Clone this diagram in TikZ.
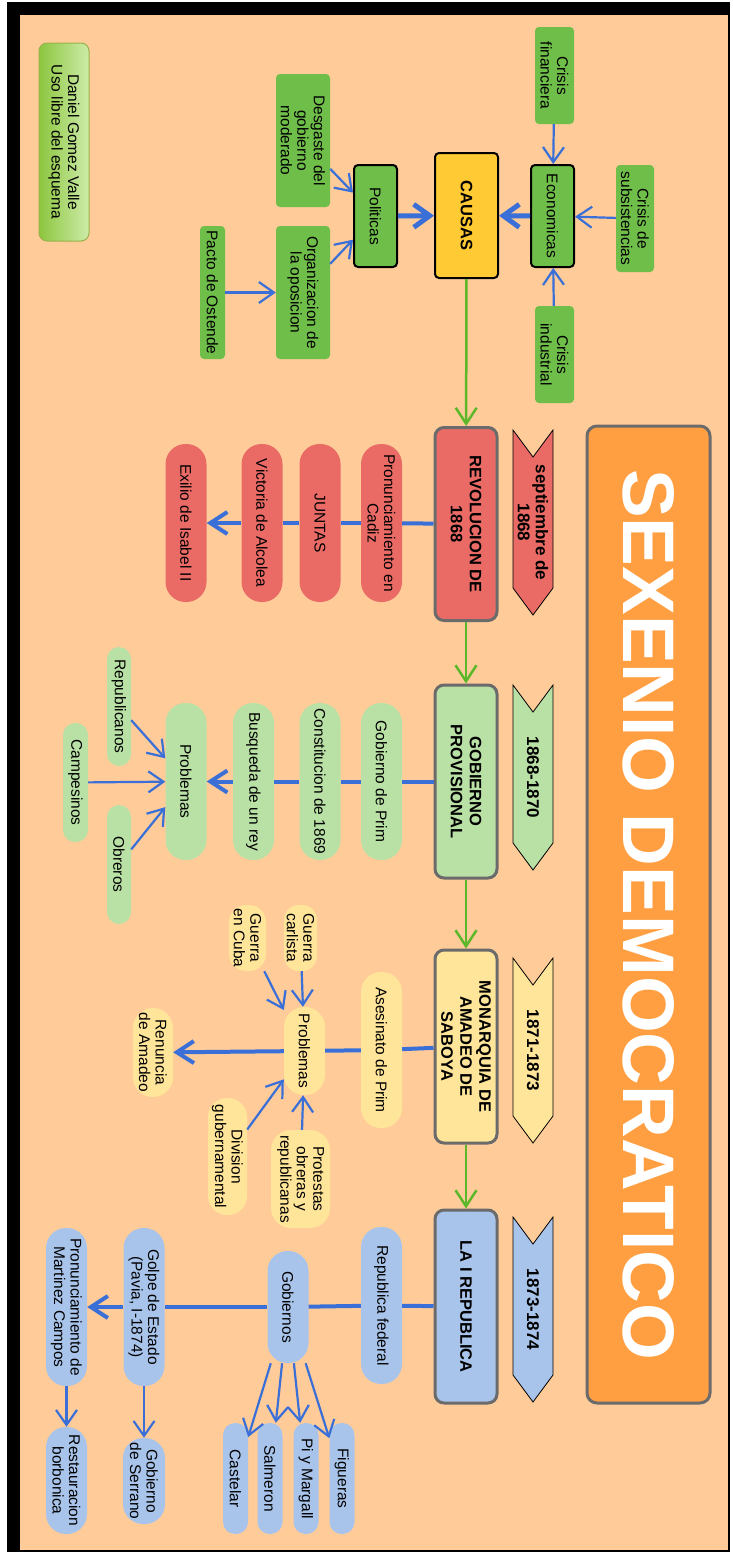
\documentclass[tikz,border=0pt]{standalone}
\usepackage{fontspec}
\setmainfont{Liberation Sans}
\usetikzlibrary{arrows.meta,shapes.symbols}

\definecolor{fondo}{HTML}{FFCC99}
\definecolor{naranja}{HTML}{FF9F42}
\definecolor{gris}{HTML}{6B6B6B}
\definecolor{rojo}{HTML}{EA6B66}
\definecolor{verdeclaro}{HTML}{B9E0A5}
\definecolor{amarillo}{HTML}{FFE599}
\definecolor{azulclaro}{HTML}{A9C4EB}
\definecolor{verdecausa}{HTML}{6FBE4A}
\definecolor{oro}{HTML}{FFCA33}
\definecolor{azul}{HTML}{3A6FD8}
\definecolor{verdeflecha}{HTML}{5CB82A}
\definecolor{verdeosc}{HTML}{8CC63F}
\definecolor{verdepal}{HTML}{CDEBA8}
\definecolor{oliva}{HTML}{9AB04A}

\newcommand{\txtreg}{\fontsize{15.5}{16.5}\selectfont}
\newcommand{\txtbold}{\fontsize{16.5}{19}\selectfont\bfseries}
\newcommand{\txtfecha}{\fontsize{17}{18}\selectfont\bfseries}
\newcommand{\txttitulo}{\fontsize{73}{80}\selectfont\bfseries}

\begin{document}
\begin{tikzpicture}[x=1pt,y=-1pt]
    \tikzstyle{caja}=[rotate=-90,inner sep=0pt,align=center,font=\txtreg]
    \tikzstyle{causa}=[caja,fill=verdecausa,rounded corners=4pt]
    \tikzstyle{eje}=[causa,draw=black,line width=2pt]
    \tikzstyle{etapa}=[caja,draw=gris,line width=3pt,rounded corners=9pt,minimum width=193pt,minimum height=62pt,font=\txtbold]
    \tikzstyle{pill}=[caja,rounded corners=20pt,minimum height=41pt]
    \tikzstyle{fecha}=[caja,signal,signal to=east,signal from=west,signal pointer angle=73,draw=black,line width=0.8pt,minimum width=185pt,minimum height=40pt,font=\txtfecha]
    \tikzstyle{fina}=[draw=azul,line width=2.2pt,-{Straight Barb[length=15pt,width=21pt]}]
    \tikzstyle{gruesa}=[draw=azul,line width=5pt,-{Straight Barb[length=16pt,width=23pt]}]
    \tikzstyle{linea}=[draw=azul,line width=4pt]
    \tikzstyle{espina}=[draw=verdeflecha,line width=2.5pt,-{Straight Barb[length=16pt,width=21pt]}]

    \fill[white] (0,0) rectangle (733,1553);
    \fill[black] (7,2) rectangle (730,1552);
    \fill[fondo] (20,15) rectangle (728,1550);
    \useasboundingbox (0,0) rectangle (733,1553);

    \node[caja,draw=oliva,line width=1pt,rounded corners=8pt,left color=verdeosc,right color=verdepal,minimum width=198pt,minimum height=50pt] (autor) at (64,142) {Daniel Gomez Valle\\Uso libre del esquema};

    \node[eje,fill=oro,font=\txtbold,minimum width=125pt,minimum height=63pt] (causas) at (466.5,215.5) {CAUSAS};
    \node[eje,minimum width=102pt,minimum height=43pt] (econ) at (552.5,216) {Economicas};
    \node[eje,minimum width=102pt,minimum height=43pt] (polit) at (375.5,216) {Politicas};
    \node[causa,minimum width=97pt,minimum height=39pt] (finan) at (554.5,75.5) {Crisis\\financiera};
    \node[causa,minimum width=107pt,minimum height=38pt] (subsis) at (635,218.5) {Crisis de\\subsistencias};
    \node[causa,minimum width=97pt,minimum height=39pt] (indus) at (554.5,354.5) {Crisis\\industrial};
    \node[causa,minimum width=133pt,minimum height=54pt] (desgaste) at (303,140.5) {Desgaste del\\gobierno\\moderado};
    \node[causa,minimum width=133pt,minimum height=54pt] (organiz) at (303,292.5) {Organizacion de\\la oposicion};
    \node[causa,minimum width=133pt,minimum height=25pt] (pacto) at (212.5,292.5) {Pacto de Ostende};

    \node[caja,fill=naranja,draw=gris,line width=3pt,rounded corners=10pt,minimum width=977pt,minimum height=123pt,font=\txttitulo,text=white] (titulo) at (648.5,914.5) {SEXENIO DEMOCRATICO};

    \foreach \n/\y/\c/\t in {1/522.5/rojo/{septiembre de\\1868}, 2/777.5/verdeclaro/1868-1870, 3/1050.5/amarillo/1871-1873, 4/1309.5/azulclaro/1873-1874}
        \node[fecha,fill=\c] (F-\n) at (533,\y) {\t};

    \foreach \nom/\y/\c/\t in {rev/524/rojo/{REVOLUCION DE\\1868}, gob/781.5/verdeclaro/{GOBIERNO\\PROVISIONAL}, mon/1046.5/amarillo/{MONARQUIA DE\\AMADEO DE\\SABOYA}, rep/1306.5/azulclaro/LA I REPUBLICA}
        \node[etapa,fill=\c] (\nom) at (466,\y) {\t};

    \foreach \n/\x/\t in {1/381.5/{Pronunciamiento en\\Cadiz}, 2/320/JUNTAS, 3/262/Victoria de Alcolea, 4/186/Exilio de Isabel II}
        \node[pill,fill=rojo,minimum width=158pt] (R-\n) at (\x,523) {\t};

    \foreach \n/\x/\t in {1/381.5/Gobierno de Prim, 2/320/Constitucion de 1869, 3/253.5/Busqueda de un rey, 4/186/Problemas}
        \node[pill,fill=verdeclaro,minimum width=157pt] (G-\n) at (\x,781.5) {\t};
    \node[pill,fill=verdeclaro,rounded corners=12pt,minimum width=119pt,minimum height=24pt] (republicanos) at (119,706.5) {Republicanos};
    \node[pill,fill=verdeclaro,rounded corners=12pt,minimum width=119pt,minimum height=25pt] (campesinos) at (75.5,782.5) {Campesinos};
    \node[pill,fill=verdeclaro,rounded corners=12pt,minimum width=119pt,minimum height=24pt] (obreros) at (119,864.5) {Obreros};

    \node[pill,fill=amarillo,minimum width=156pt] (A-1) at (381.5,1050) {Asesinato de Prim};
    \node[pill,fill=amarillo,minimum width=88pt] (A-2) at (304.5,1051) {Problemas};
    \node[pill,fill=amarillo,minimum width=89pt,minimum height=40pt] (A-3) at (153,1052.5) {Renuncia\\de Amadeo};
    \node[pill,fill=amarillo,rounded corners=15pt,minimum width=66pt,minimum height=33pt] (carlista) at (300.5,938) {Guerra\\carlista};
    \node[pill,fill=amarillo,rounded corners=17pt,minimum width=66pt,minimum height=37pt] (cuba) at (247.5,938) {Guerra\\en Cuba};
    \node[pill,fill=amarillo,rounded corners=19pt,minimum width=117pt,minimum height=39pt] (division) at (227.5,1156.5) {Division\\gubernamental};
    \node[pill,fill=amarillo,minimum width=98pt,minimum height=59pt] (protestas) at (300.5,1179) {Protestas\\obreras y\\republicanas};

    \node[pill,fill=azulclaro,minimum width=157pt] (P-1) at (381.5,1305.5) {Republica federal};
    \node[pill,fill=azulclaro,minimum width=112pt] (P-2) at (288,1307) {Gobiernos};
    \node[pill,fill=azulclaro,minimum width=158pt] (P-3) at (144,1307) {Golpe de Estado\\(Pavia, I-1874)};
    \node[pill,fill=azulclaro,minimum width=158pt] (P-4) at (66.5,1307) {Pronunciamiento de\\Martinez Campos};
    \node[pill,fill=azulclaro,minimum width=86pt,minimum height=42pt] (serrano) at (144,1481) {Gobierno\\de Serrano};
    \node[pill,fill=azulclaro,minimum width=107pt] (restaur) at (66.5,1480.5) {Restauracion\\borbonica};
    \foreach \nom/\x/\t in {castelar/235.5/Castelar, salmeron/270/Salmeron, pi/306/Pi y Margall, figueras/342/Figueras}
        \node[pill,fill=azulclaro,rounded corners=12pt,minimum width=111pt,minimum height=25pt] (\nom) at (\x,1478.5) {\t};

    \foreach \from/\to in {finan/econ, indus/econ, subsis/econ, desgaste/polit, organiz/polit, pacto/organiz}
        \draw[fina] (\from) -- (\to);
    \foreach \from/\to in {econ/causas, polit/causas}
        \draw[gruesa] (\from) -- (\to);
    \foreach \from/\to in {causas/rev, rev/gob, gob/mon, mon/rep}
        \draw[espina] (\from) -- (\to);

    \foreach \from/\to in {rev/R-1, R-1/R-2, R-2/R-3, gob/G-1, G-1/G-2, G-2/G-3, mon/A-1, A-1/A-2, rep/P-1, P-1/P-2, P-2/P-3}
        \draw[linea] (\from) -- (\to);
    \foreach \from/\to in {R-3/R-4, G-3/G-4, A-2/A-3, P-3/P-4}
        \draw[linea,-{Straight Barb[length=17pt,width=22pt]}] (\from) -- (\to);

    \foreach \from/\to in {republicanos/G-4, campesinos/G-4, obreros/G-4, carlista/A-2, cuba/A-2, division/A-2, protestas/A-2, P-3/serrano, P-4/restaur, P-2/castelar, P-2/salmeron, P-2/pi, P-2/figueras}
        \draw[fina] (\from) -- (\to);
\end{tikzpicture}
\end{document}
